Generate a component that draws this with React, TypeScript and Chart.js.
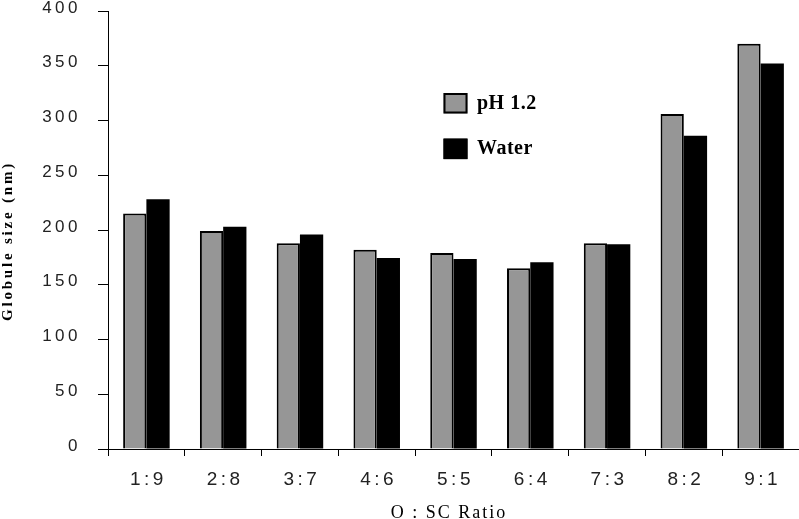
import React, { useEffect, useRef } from "react";
import { Chart, registerables } from "chart.js";

Chart.register(...registerables);

const categories = ["1:9", "2:8", "3:7", "4:6", "5:5", "6:4", "7:3", "8:2", "9:1"];
const ph12Values = [215, 199, 188, 182, 179, 165, 188, 306, 370];
const waterValues = [228, 203, 196, 174.5, 173.5, 170.5, 187, 286, 352];
const seriesLabels = ["pH 1.2", "Water"];
const yTitle = "Globule size (nm)";
const xTitle = "O : SC Ratio";

const customDraw = {
  id: "customDraw",
  beforeDraw(chart: any) {
    chart.ctx.letterSpacing = "3.5px";
  },
  beforeDatasetsDraw(chart: any) {
    chart.ctx.letterSpacing = "0px";
  },
  afterDraw(chart: any) {
    const ctx = chart.ctx;
    ctx.save();
    // y title
    ctx.save();
    ctx.translate(8, 241);
    ctx.rotate(-Math.PI / 2);
    ctx.font = 'bold 15px "Liberation Serif"';
    ctx.letterSpacing = "2.8px";
    ctx.fillStyle = "#000";
    ctx.textAlign = "center";
    ctx.textBaseline = "middle";
    ctx.fillText(yTitle, 0, 0);
    ctx.restore();
    // x title
    ctx.save();
    ctx.font = '18px "Liberation Serif"';
    ctx.letterSpacing = "2px";
    ctx.fillStyle = "#000";
    ctx.textAlign = "center";
    ctx.textBaseline = "alphabetic";
    ctx.fillText(xTitle, 449, 518);
    ctx.restore();
    // legend
    chart.data.datasets.forEach((ds: any, i: number) => {
      const bx = 443.5;
      const by = 93 + i * 45.6;
      ctx.save();
      ctx.fillStyle = ds.backgroundColor;
      ctx.fillRect(bx, by, 24, 20.5);
      ctx.lineWidth = 2;
      ctx.strokeStyle = "#000";
      ctx.strokeRect(bx + 1, by + 1, 22, 18.5);
      ctx.font = 'bold 20px "Liberation Serif"';
      ctx.letterSpacing = "0.5px";
      ctx.fillStyle = "#000";
      ctx.textAlign = "left";
      ctx.textBaseline = "middle";
      ctx.fillText(ds.label, 477, by + 10.5);
      ctx.restore();
    });
    ctx.restore();
  },
};

export default function App() {
  const ref = useRef<HTMLCanvasElement>(null);
  useEffect(() => {
    if (!ref.current) return;
    const chart = new Chart(ref.current, {
      type: "bar",
      data: {
        labels: categories,
        datasets: [
          {
            label: seriesLabels[0],
            data: ph12Values,
            backgroundColor: "#969696",
            borderColor: "#000",
            borderWidth: 2,
            categoryPercentage: 0.606,
            barPercentage: 1,
          },
          {
            label: seriesLabels[1],
            data: waterValues,
            backgroundColor: "#000",
            borderColor: "#000",
            borderWidth: 0,
            categoryPercentage: 0.606,
            barPercentage: 1,
          },
        ],
      },
      options: {
        responsive: false,
        animation: false,
        layout: { padding: { top: 11, left: 0, right: 0, bottom: 0 } },
        plugins: { legend: { display: false }, tooltip: { enabled: false } },
        scales: {
          x: {
            offset: true,
            border: { display: true, color: "#000", width: 1 },
            grid: {
              offset: true,
              drawOnChartArea: false,
              drawTicks: true,
              tickLength: 7,
              color: "#000",
              tickColor: "#000",
            },
            ticks: {
              color: "#222",
              font: { family: '"Liberation Sans"', size: 19 },
              padding: 12,
              labelOffset: 2,
              maxRotation: 0,
            },
            afterFit(scale: any) {
              scale.height = 70;
              scale.paddingLeft = 0;
              scale.paddingRight = 0;
            },
          },
          y: {
            min: 0,
            max: 400,
            border: { display: true, color: "#000", width: 1 },
            grid: {
              drawOnChartArea: false,
              drawTicks: true,
              tickLength: 10,
              color: "#000",
              tickColor: "#000",
            },
            ticks: {
              stepSize: 50,
              color: "#222",
              font: { family: '"Liberation Sans"', size: 17 },
              padding: 17,
              labelOffset: -3,
            },
            afterFit(scale: any) {
              scale.width = 108;
              scale.paddingTop = 0;
              scale.paddingBottom = 0;
            },
          },
        },
      },
      plugins: [customDraw],
    });
    return () => chart.destroy();
  }, []);
  return (
    <div style={{ position: "absolute", left: 0, top: 0, width: 799, height: 519, background: "#fff" }}>
      <canvas ref={ref} width={799} height={519} style={{ display: "block" }} />
    </div>
  );
}
